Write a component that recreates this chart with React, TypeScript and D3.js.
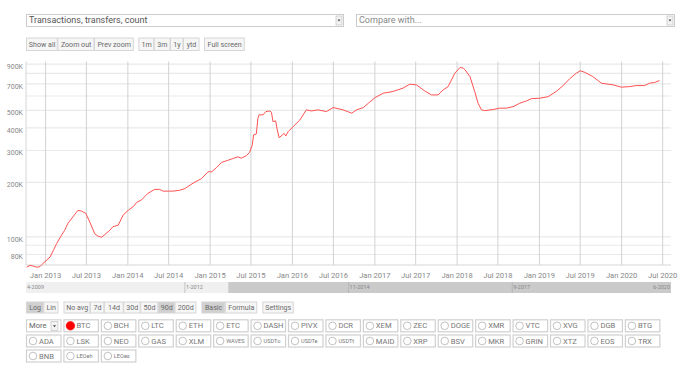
import React from "react";
import * as d3 from "d3";

// BTC transactions, 90d average
const dates = [
  "2012-10-09", "2012-10-24", "2012-11-08", "2012-11-23", "2012-12-07", "2012-12-15", "2012-12-29",
  "2013-01-21", "2013-02-04", "2013-02-19", "2013-03-12", "2013-03-27", "2013-04-10", "2013-05-02",
  "2013-05-24", "2013-06-09", "2013-06-28", "2013-07-16", "2013-08-07", "2013-08-22", "2013-09-06",
  "2013-09-21", "2013-10-13", "2013-10-27", "2013-11-19", "2013-12-11", "2014-01-03", "2014-01-25",
  "2014-02-09", "2014-03-02", "2014-03-31", "2014-04-30", "2014-05-22", "2014-06-06", "2014-07-20",
  "2014-08-19", "2014-09-11", "2014-10-17", "2014-11-24", "2014-12-23", "2015-01-08", "2015-01-30",
  "2015-02-21", "2015-03-21", "2015-04-05", "2015-05-04", "2015-05-19", "2015-06-11", "2015-06-25",
  "2015-07-07", "2015-07-13", "2015-07-25", "2015-08-01", "2015-08-06", "2015-08-24", "2015-09-05",
  "2015-09-23", "2015-09-30", "2015-10-07", "2015-10-19", "2015-10-25", "2015-11-03", "2015-11-18",
  "2015-11-25", "2015-12-03", "2015-12-13", "2016-01-04", "2016-02-03", "2016-03-03", "2016-03-25",
  "2016-04-24", "2016-05-31", "2016-06-30", "2016-08-13", "2016-09-20", "2016-10-12", "2016-11-11",
  "2016-12-03", "2017-01-02", "2017-02-08", "2017-03-22", "2017-05-06", "2017-06-05", "2017-07-04",
  "2017-08-10", "2017-09-09", "2017-10-08", "2017-10-31", "2017-11-22", "2017-12-22", "2018-01-14",
  "2018-01-28", "2018-02-05", "2018-02-27", "2018-03-20", "2018-04-04", "2018-04-19", "2018-05-03",
  "2018-06-09", "2018-07-09", "2018-08-08", "2018-09-06", "2018-10-06", "2018-11-05", "2018-11-27",
  "2019-01-03", "2019-02-09", "2019-03-16", "2019-04-15", "2019-05-15", "2019-06-14", "2019-07-01",
  "2019-07-20", "2019-08-26", "2019-10-03", "2019-11-24", "2019-12-31", "2020-02-06", "2020-03-06",
  "2020-04-12", "2020-05-04", "2020-05-26", "2020-06-17",
];

// thousands of transactions
const txCount = [
  68, 69.7, 69, 68, 68.6, 70.3, 73,
  77.5, 84, 92, 102, 109, 119, 129,
  140, 139, 135, 121, 104, 101, 99.6,
  103, 109, 114, 116, 132, 140.5, 147,
  155, 160, 174, 183, 183, 179, 179,
  181, 185, 198, 210, 229, 229, 242,
  258, 265, 269, 277, 272, 281, 293,
  322, 366, 370, 452, 472, 472, 492,
  496, 488, 433, 437, 395, 353, 366,
  373, 361, 381, 406, 442, 503, 496,
  503, 492, 518, 503, 482, 503, 518,
  547, 588, 622, 635, 663, 697, 691,
  640, 608, 608, 648, 676, 802, 862,
  855, 837, 768, 635, 547, 503, 498,
  505, 514, 514, 524, 547, 564, 580,
  583, 595, 635, 682, 746, 802, 826,
  812, 768, 706, 691, 671, 676, 685,
  685, 706, 712, 730,
];

const gridValues = [80, 90, 100, 200, 300, 400, 500, 600, 700, 800, 900];
const labelValues = [80, 100, 200, 300, 400, 500, 700, 900];

const navLabels = ["2009-04-01", "2012-01-01", "2014-11-01", "2017-09-01", "2020-06-01"];

const topButtons = [["Show all", "Zoom out", "Prev zoom"], ["1m", "3m", "1y", "ytd"], ["Full screen"]];
const optionButtons = [["Log", "Lin"], ["No avg", "7d", "14d", "30d", "50d", "90d", "200d"], ["Basic", "Formula"], ["Settings"]];
const selectedOptions = ["Log", "90d", "Basic"];

const coinRows = [
  ["BTC", "BCH", "LTC", "ETH", "ETC", "DASH", "PIVX", "DCR", "XEM", "ZEC", "DOGE", "XMR", "VTC", "XVG", "DGB", "BTG"],
  ["ADA", "LSK", "NEO", "GAS", "XLM", "WAVES", "USDTo", "USDTe", "USDTt", "MAID", "XRP", "BSV", "MKR", "GRIN", "XTZ", "EOS", "TRX"],
  ["BNB", "LEOeh", "LEOes"],
];
const smallCoins = ["WAVES", "USDTo", "USDTe", "USDTt", "LEOeh", "LEOes"];

// button widths as they render in the original toolbar
const buttonWidth: Record<string, number> = {
  "Show all": 31.3, "Zoom out": 36.7, "Prev zoom": 39.3,
  "1m": 15.4, "3m": 16.3, "1y": 13, "ytd": 16, "Full screen": 40.3,
  "Log": 17.3, "Lin": 14.7, "No avg": 26.4, "7d": 14, "14d": 19.3, "30d": 17,
  "50d": 17.7, "90d": 16.6, "200d": 21.4, "Basic": 23.4, "Formula": 32, "Settings": 31,
};

const font = "Roboto, 'Open Sans', sans-serif";

export default function App() {
  const width = 700;
  const height = 374;
  const left = 26, right = 671, top = 61.5, bottom = 265;

  const parse = d3.timeParse("%Y-%m-%d");
  const data = dates.map((d, i) => ({ date: parse(d) as Date, value: txCount[i] * 1000 }));

  const x = d3.scaleTime()
    .domain([parse("2012-10-06") as Date, parse("2020-08-07") as Date])
    .range([left, right]);
  const y = d3.scaleLog().domain([70000, 930000]).range([bottom, top]);

  const line = d3.line<{ date: Date; value: number }>()
    .x(d => x(d.date))
    .y(d => y(d.value));

  const xTicks = d3.timeMonth.every(6)!.range(parse("2013-01-01") as Date, parse("2020-07-02") as Date);
  const fmt = d3.timeFormat("%b %Y");

  const nav = d3.scaleTime()
    .domain([parse("2009-04-01") as Date, parse("2020-06-01") as Date])
    .range([left, right]);
  const navStart = nav(parse("2012-10-01") as Date);

  // button groups laid out left to right
  const drawGroups = (groups: string[][], y0: number, h: number, size: number, x0: number, gap: number, selected: string[]) => {
    const out: React.ReactNode[] = [];
    let cx = x0;
    groups.forEach((g, gi) => {
      g.forEach((b) => {
        const w = buttonWidth[b];
        out.push(
          <g key={`${y0}-${gi}-${b}`}>
            <rect x={cx + 0.5} y={y0 + 0.5} width={w - 0.5} height={h} fill={selected.includes(b) ? "#d0d0d0" : "#f6f6f6"} stroke="#d6d6d6" />
            <text x={cx + 0.5 + w / 2} y={y0 + h / 2 + 1} textAnchor="middle" dominantBaseline="middle" fontSize={size} fill="#6a6a6a">{b}</text>
          </g>
        );
        cx += w;
      });
      cx += gap;
    });
    return out;
  };

  const pitch = 37.43, bw = 34.5, bh = 12;
  const rowY = [319.3, 334.5, 349.5];

  return (
    <svg width={width} height={height} style={{ position: "absolute", left: 0, top: 0, fontFamily: font }}>
      {/* top selects */}
      <rect x={26.5} y={14.5} width={317} height={12} fill="#fff" stroke="#ccc" />
      <text x={29} y={21} dominantBaseline="middle" fontSize={9} fill="#555">Transactions, transfers, count</text>
      <rect x={336} y={16} width={6} height={9} fill="#f3f3f3" stroke="#bbb" strokeWidth={0.6} />
      <path d="M337.6,19.6 L340.4,19.6 L339,21.4 Z" fill="#444" />
      <rect x={356.5} y={14.5} width={318} height={12} fill="#fff" stroke="#ccc" />
      <text x={359} y={21} dominantBaseline="middle" fontSize={9} fill="#888">Compare with...</text>
      <rect x={667} y={16} width={6} height={9} fill="#f3f3f3" stroke="#bbb" strokeWidth={0.6} />
      <path d="M668.6,19.6 L671.4,19.6 L670,21.4 Z" fill="#444" />

      {drawGroups(topButtons, 37.5, 12.5, 7.1, 26, 5, [])}

      {/* grid */}
      {gridValues.map(v => (
        <line key={v} x1={left} x2={right} y1={y(v * 1000)} y2={y(v * 1000)} stroke="#e9e9e9" strokeWidth={1.2} />
      ))}
      {xTicks.map(t => (
        <line key={+t} x1={x(t)} x2={x(t)} y1={top} y2={bottom} stroke="#d2d2d2" strokeWidth={1} />
      ))}
      <line x1={left} x2={left} y1={top} y2={bottom} stroke="#d6d6d6" />
      <line x1={left} x2={right} y1={bottom} y2={bottom} stroke="#d6d6d6" />

      {labelValues.map(v => (
        <text key={v} x={23} y={y(v * 1000) + 3} textAnchor="end" dominantBaseline="middle" fontSize={7} fill="#888">{v}K</text>
      ))}
      {xTicks.map(t => (
        <text key={+t} x={x(t)} y={275.5} textAnchor="middle" dominantBaseline="middle" fontSize={7.6} fill="#888">{fmt(t)}</text>
      ))}

      <path d={line(data) || ""} fill="none" stroke="#ff5252" strokeWidth={1} />

      {/* navigator */}
      <rect x={left} y={282} width={right - left} height={11} fill="#f0f0f0" />
      <rect x={navStart} y={282} width={right - navStart} height={11} fill="#cacaca" />
      {navLabels.map((d, i) => {
        const px = nav(parse(d) as Date);
        const last = i === navLabels.length - 1;
        return (
          <g key={d}>
            {i > 0 && !last && <line x1={px} x2={px} y1={282} y2={293} stroke="#aaa" strokeWidth={0.6} />}
            <text x={last ? px - 1 : px + 1} y={288} textAnchor={last ? "end" : "start"} dominantBaseline="middle" fontSize={5.5} fill="#888">
              {d3.timeFormat("%-m-%Y")(parse(d) as Date)}
            </text>
          </g>
        );
      })}

      {drawGroups(optionButtons, 301.5, 11, 7.1, 26, 5.5, selectedOptions)}

      {/* coin selector */}
      <rect x={26.5} y={rowY[0] + 0.5} width={bw} height={bh} fill="#fff" stroke="#d0d0d0" />
      <text x={29} y={rowY[0] + 7} dominantBaseline="middle" fontSize={7.6} fill="#666">More</text>
      <rect x={51} y={rowY[0] + 2} width={7} height={9} fill="#f3f3f3" stroke="#bbb" strokeWidth={0.6} />
      <path d="M53,6 L56,6 L54.5,8 Z" transform={`translate(0,${rowY[0]})`} fill="#444" />
      {coinRows.map((row, ri) =>
        row.map((c, ci) => {
          const slot = ri === 0 ? ci + 1 : ci;
          const bx = 26 + slot * pitch;
          const by = rowY[ri];
          const on = c === "BTC";
          return (
            <g key={c}>
              <rect x={bx + 0.5} y={by + 0.5} width={bw} height={bh} fill="#fff" stroke="#d0d0d0" strokeWidth={1.2} />
              <circle cx={bx + 7} cy={by + 6.5} r={on ? 4.3 : 3.8} fill={on ? "#ff0000" : "#fff"} stroke={on ? "#ff0000" : "#999"} strokeWidth={0.6} />
              <text x={bx + 13} y={by + 7} dominantBaseline="middle" fontSize={smallCoins.includes(c) ? 5.6 : 7.6} fill="#777">{c}</text>
            </g>
          );
        })
      )}
    </svg>
  );
}
